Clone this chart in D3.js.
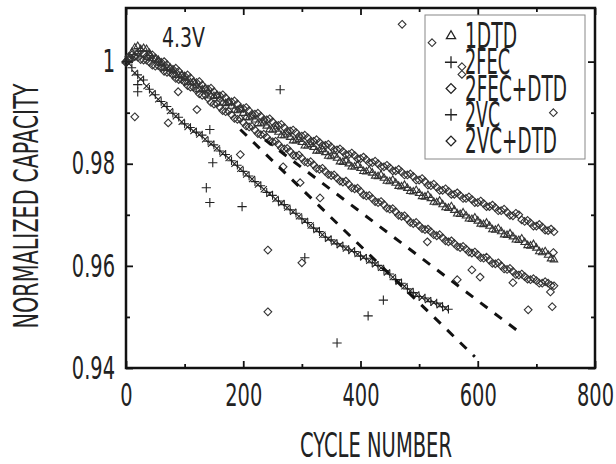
<!DOCTYPE html>
<html>
<head>
<meta charset="utf-8">
<script src="https://cdn.jsdelivr.net/npm/d3@7"></script>
<style>
  body { margin: 0; background: #fff; }
  text { font-family: "Liberation Sans Narrow", "DejaVu Sans Condensed", "Arial Narrow", sans-serif; fill: #222; }
</style>
</head>
<body>
<div id="chart"></div>
<script>
// cycle numbers of the sampled points
var cycles = d3.range(0, 740, 10);
var cyclesMid = d3.range(5, 735, 10);
var cyclesLow = d3.range(0, 560, 10);
var cyclesLow2 = d3.range(5, 555, 10);

// 2VC+DTD (top band)
var vcDtd = [
  1.0000, 1.0013, 1.0017, 1.0016, 1.0011, 1.0007, 0.9999, 0.9994, 0.9985, 0.9981,
  0.9972, 0.9968, 0.9959, 0.9954, 0.9946, 0.9941, 0.9933, 0.9929, 0.9921, 0.9917,
  0.9908, 0.9904, 0.9897, 0.9893, 0.9886, 0.9882, 0.9875, 0.9871, 0.9864, 0.9861,
  0.9854, 0.9851, 0.9844, 0.9842, 0.9836, 0.9833, 0.9827, 0.9824, 0.9818, 0.9816,
  0.9810, 0.9808, 0.9802, 0.9800, 0.9794, 0.9792, 0.9786, 0.9784, 0.9778, 0.9775,
  0.9768, 0.9765, 0.9757, 0.9754, 0.9748, 0.9746, 0.9740, 0.9738, 0.9732, 0.9730,
  0.9724, 0.9722, 0.9716, 0.9714, 0.9708, 0.9705, 0.9698, 0.9700, 0.9687, 0.9684,
  0.9678, 0.9676, 0.9669, 0.9667
];
var vcDtdB = [
  1.0010, 1.0011, 1.0021, 1.0010, 1.0013, 1.0000, 1.0000, 0.9986, 0.9987, 0.9973,
  0.9974, 0.9960, 0.9961, 0.9947, 0.9948, 0.9934, 0.9935, 0.9922, 0.9923, 0.9909,
  0.9910, 0.9897, 0.9899, 0.9886, 0.9888, 0.9875, 0.9877, 0.9864, 0.9866, 0.9854,
  0.9856, 0.9844, 0.9847, 0.9836, 0.9838, 0.9827, 0.9829, 0.9818, 0.9821, 0.9810,
  0.9813, 0.9802, 0.9805, 0.9794, 0.9797, 0.9786, 0.9789, 0.9778, 0.9780, 0.9768,
  0.9771, 0.9758, 0.9760, 0.9748, 0.9751, 0.9740, 0.9743, 0.9732, 0.9735, 0.9724,
  0.9727, 0.9716, 0.9719, 0.9708, 0.9711, 0.9699, 0.9703, 0.9690, 0.9689, 0.9678,
  0.9681, 0.9670, 0.9672
];
// 1DTD (middle band)
var dtd = [
  1.0002, 1.0018, 1.0030, 1.0026, 1.0016, 1.0004, 0.9996, 0.9987, 0.9982, 0.9973,
  0.9968, 0.9959, 0.9954, 0.9945, 0.9941, 0.9932, 0.9927, 0.9918, 0.9913, 0.9904,
  0.9899, 0.9890, 0.9886, 0.9878, 0.9874, 0.9866, 0.9862, 0.9855, 0.9852, 0.9845,
  0.9842, 0.9835, 0.9832, 0.9825, 0.9822, 0.9814, 0.9811, 0.9803, 0.9800, 0.9794,
  0.9791, 0.9784, 0.9782, 0.9775, 0.9772, 0.9765, 0.9762, 0.9755, 0.9752, 0.9745,
  0.9742, 0.9735, 0.9732, 0.9724, 0.9720, 0.9713, 0.9709, 0.9701, 0.9698, 0.9691,
  0.9688, 0.9681, 0.9678, 0.9670, 0.9667, 0.9660, 0.9657, 0.9650, 0.9646, 0.9639,
  0.9635, 0.9626, 0.9621, 0.9612
];
var dtdB = [
  1.0006, 1.0027, 1.0024, 1.0024, 1.0006, 1.0003, 0.9988, 0.9988, 0.9974, 0.9974,
  0.9960, 0.9960, 0.9946, 0.9947, 0.9933, 0.9934, 0.9919, 0.9920, 0.9905, 0.9906,
  0.9891, 0.9892, 0.9879, 0.9880, 0.9867, 0.9868, 0.9855, 0.9858, 0.9845, 0.9848,
  0.9835, 0.9838, 0.9825, 0.9828, 0.9815, 0.9817, 0.9804, 0.9806, 0.9794, 0.9797,
  0.9785, 0.9787, 0.9776, 0.9778, 0.9766, 0.9768, 0.9756, 0.9758, 0.9746, 0.9748,
  0.9736, 0.9738, 0.9725, 0.9727, 0.9714, 0.9716, 0.9702, 0.9704, 0.9692, 0.9694,
  0.9682, 0.9684, 0.9671, 0.9673, 0.9661, 0.9663, 0.9651, 0.9653, 0.9640, 0.9642,
  0.9628, 0.9628, 0.9614
];
// 2FEC+DTD (lower diamond band)
var fecDtd = [
  0.9998, 1.0006, 1.0009, 1.0003, 0.9999, 0.9991, 0.9988, 0.9979, 0.9974, 0.9965,
  0.9960, 0.9950, 0.9944, 0.9934, 0.9928, 0.9917, 0.9911, 0.9902, 0.9896, 0.9887,
  0.9881, 0.9872, 0.9866, 0.9857, 0.9852, 0.9843, 0.9838, 0.9829, 0.9824, 0.9815,
  0.9811, 0.9802, 0.9798, 0.9789, 0.9785, 0.9777, 0.9772, 0.9764, 0.9760, 0.9751,
  0.9746, 0.9737, 0.9732, 0.9724, 0.9720, 0.9711, 0.9706, 0.9697, 0.9692, 0.9683,
  0.9679, 0.9671, 0.9667, 0.9659, 0.9655, 0.9647, 0.9644, 0.9636, 0.9633, 0.9625,
  0.9622, 0.9615, 0.9611, 0.9604, 0.9600, 0.9593, 0.9589, 0.9582, 0.9579, 0.9573,
  0.9571, 0.9566, 0.9566, 0.9561
];
var fecDtdB = [
  1.0003, 1.0010, 1.0004, 1.0003, 0.9993, 0.9992, 0.9981, 0.9979, 0.9967, 0.9965,
  0.9953, 0.9950, 0.9937, 0.9935, 0.9920, 0.9918, 0.9904, 0.9903, 0.9889, 0.9888,
  0.9874, 0.9873, 0.9859, 0.9858, 0.9845, 0.9844, 0.9831, 0.9830, 0.9817, 0.9817,
  0.9804, 0.9804, 0.9791, 0.9791, 0.9779, 0.9778, 0.9766, 0.9766, 0.9753, 0.9752,
  0.9739, 0.9738, 0.9726, 0.9726, 0.9713, 0.9712, 0.9699, 0.9698, 0.9685, 0.9685,
  0.9673, 0.9672, 0.9661, 0.9661, 0.9649, 0.9649, 0.9638, 0.9638, 0.9627, 0.9627,
  0.9616, 0.9617, 0.9605, 0.9606, 0.9594, 0.9595, 0.9583, 0.9584, 0.9574, 0.9575,
  0.9566, 0.9569, 0.9562
];
// 2FEC (lowest band)
var fec = [
  1.0000, 0.9988, 0.9974, 0.9964, 0.9946, 0.9935, 0.9922, 0.9912, 0.9899, 0.9891,
  0.9878, 0.9871, 0.9862, 0.9856, 0.9844, 0.9837, 0.9825, 0.9818, 0.9806, 0.9797,
  0.9785, 0.9776, 0.9765, 0.9757, 0.9744, 0.9738, 0.9727, 0.9720, 0.9710, 0.9703,
  0.9692, 0.9685, 0.9674, 0.9667, 0.9656, 0.9651, 0.9643, 0.9639, 0.9631, 0.9628,
  0.9619, 0.9615, 0.9606, 0.9601, 0.9591, 0.9584, 0.9573, 0.9566, 0.9555, 0.9548,
  0.9540, 0.9537, 0.9530, 0.9527, 0.9520, 0.9515
];
// 2VC (runs with the lowest band)
var vc = [
  0.9996, 0.9978, 0.9966, 0.9952, 0.9938, 0.9926, 0.9915, 0.9903, 0.9893, 0.9882,
  0.9872, 0.9864, 0.9857, 0.9848, 0.9839, 0.9830, 0.9820, 0.9811, 0.9800, 0.9790,
  0.9779, 0.9770, 0.9759, 0.9750, 0.9741, 0.9731, 0.9723, 0.9714, 0.9706, 0.9697,
  0.9688, 0.9679, 0.9670, 0.9661, 0.9653, 0.9646, 0.9641, 0.9634, 0.9630, 0.9623,
  0.9617, 0.9610, 0.9603, 0.9596, 0.9587, 0.9578, 0.9569, 0.9560, 0.9551, 0.9544,
  0.9538, 0.9533, 0.9528, 0.9523, 0.9517
];
// scattered points [cycle, capacity]
var vcStray = [
  [20, 0.9955], [20, 0.9941], [143, 0.9867], [148, 0.9802], [137, 0.9753],
  [143, 0.9724], [198, 0.9716], [263, 0.9945], [305, 0.9616], [360, 0.9449],
  [413, 0.9502], [439, 0.9533]
];
var fecDtdStray = [
  [15, 0.9892], [72, 0.9880], [89, 0.9941], [121, 0.9906], [195, 0.9818],
  [268, 0.9794], [297, 0.9763], [331, 0.9733], [242, 0.9631], [242, 0.9510],
  [300, 0.9606], [514, 0.9647], [565, 0.9573], [590, 0.9592], [604, 0.9578],
  [660, 0.9567], [686, 0.9514], [727, 0.9520], [724, 0.9549]
];
var vcDtdStray = [
  [471, 1.0073], [522, 1.0037], [573, 0.9990], [573, 0.9975], [729, 0.9900], [729, 0.9626]
];
// dashed fit lines
var fitA = [[195, 0.9867], [595, 0.9422]];
var fitB = [[237, 0.9847], [677, 0.9465]];

var xMajor = [0, 200, 400, 600, 800];
var xMinor = [100, 300, 500, 700];
var yMajor = [0.94, 0.96, 0.98, 1];
var yMinor = [0.95, 0.97, 0.99];
var legendLabels = ["1DTD", "2FEC", "2FEC+DTD", "2VC", "2VC+DTD"];

var width = 616, height = 464;

var svg = d3.select("#chart")
  .append("svg")
  .attr("width", width)
  .attr("height", height);

var xScale = d3.scaleLinear().domain([0, 800]).range([126, 595]);
var yScale = d3.scaleLinear().domain([0.94, 1.0105]).range([368, 8]);

// squeeze text to a target width (fonts here are wider than the original)
function squeeze(sel, target) {
  sel.each(function(d, i) {
    var w = this.getComputedTextLength();
    var t = typeof target === "function" ? target(w, d, i) : target;
    d3.select(this).attr("textLength", t).attr("lengthAdjust", "spacingAndGlyphs");
  });
}

var fontFam = '"Liberation Sans Narrow", "DejaVu Sans Condensed", "Arial Narrow", sans-serif';

// probe width of "200" at tick size
var probe = svg.append("text").attr("font-size", 32).text("200");
var kTick = 37 / probe.node().getComputedTextLength();
probe.remove();

// axes (ticks inward)
var bottom = svg.append("g")
  .attr("transform", "translate(0,368)")
  .call(d3.axisBottom(xScale).tickValues(xMajor).tickSize(-7).tickPadding(15)
    .tickFormat(d3.format("d")));
svg.append("g").attr("transform", "translate(0,368)")
  .call(d3.axisBottom(xScale).tickValues(xMinor).tickSize(-4).tickFormat(""));
svg.append("g").attr("transform", "translate(0,8)")
  .call(d3.axisTop(xScale).tickValues(xMajor).tickSize(-7).tickFormat(""));
svg.append("g").attr("transform", "translate(0,8)")
  .call(d3.axisTop(xScale).tickValues(xMinor).tickSize(-4).tickFormat(""));

var left = svg.append("g")
  .attr("transform", "translate(126,0)")
  .call(d3.axisLeft(yScale).tickValues(yMajor).tickSize(-7).tickPadding(11)
    .tickFormat(function(d) { return d === 1 ? "1" : d3.format(".2f")(d); }));
svg.append("g").attr("transform", "translate(126,0)")
  .call(d3.axisLeft(yScale).tickValues(yMinor).tickSize(-4).tickFormat(""));
svg.append("g").attr("transform", "translate(595,0)")
  .call(d3.axisRight(yScale).tickValues(yMajor).tickSize(-7).tickFormat(""));
svg.append("g").attr("transform", "translate(595,0)")
  .call(d3.axisRight(yScale).tickValues(yMinor).tickSize(-4).tickFormat(""));

svg.selectAll(".domain").remove();
svg.selectAll(".tick line").attr("stroke", "#111").attr("stroke-width", 1.8);

[bottom, left].forEach(function(g) {
  g.selectAll("text")
    .attr("font-size", 32)
    .attr("font-family", fontFam)
    .attr("fill", "#222");
  squeeze(g.selectAll("text"), function(w) { return w * kTick; });
});

// frame
svg.append("rect")
  .attr("x", 126).attr("y", 8)
  .attr("width", 595 - 126).attr("height", 368 - 8)
  .attr("fill", "none").attr("stroke", "#111").attr("stroke-width", 2.5);

// markers
function drawPoints(points, type, size, color) {
  svg.append("g").selectAll("path")
    .data(points)
    .enter()
    .append("path")
      .attr("transform", function(d) { return "translate(" + xScale(d[0]) + "," + yScale(d[1]) + ")"; })
      .attr("d", d3.symbol().type(type).size(size))
      .attr("fill", "none")
      .attr("stroke", color)
      .attr("stroke-width", 1.1);
}

drawPoints(d3.zip(cycles, dtd), d3.symbolTriangle2, 40, "#333");
drawPoints(d3.zip(cyclesMid, dtdB), d3.symbolTriangle2, 40, "#333");
drawPoints(d3.zip(cycles, vcDtd), d3.symbolDiamond2, 38, "#333");
drawPoints(d3.zip(cyclesMid, vcDtdB), d3.symbolDiamond2, 38, "#333");
drawPoints(d3.zip(cycles, fecDtd), d3.symbolDiamond2, 38, "#333");
drawPoints(d3.zip(cyclesMid, fecDtdB), d3.symbolDiamond2, 38, "#333");
drawPoints(d3.zip(cyclesLow, fec), d3.symbolPlus, 26, "#222");
drawPoints(d3.zip(cyclesLow2, vc), d3.symbolTimes, 26, "#222");
drawPoints(vcStray, d3.symbolPlus, 30, "#222");
drawPoints(fecDtdStray, d3.symbolDiamond2, 38, "#333");
drawPoints(vcDtdStray, d3.symbolDiamond2, 38, "#333");

// dashed fits
var line = d3.line()
  .x(function(d) { return xScale(d[0]); })
  .y(function(d) { return yScale(d[1]); });

[fitA, fitB].forEach(function(f) {
  svg.append("path")
    .datum(f)
    .attr("d", line)
    .attr("fill", "none")
    .attr("stroke", "#111")
    .attr("stroke-width", 3)
    .attr("stroke-dasharray", "9,9");
});

// axis titles
var xTitle = svg.append("text")
  .attr("x", 376).attr("y", 457)
  .attr("text-anchor", "middle")
  .attr("font-size", 33)
  .text("CYCLE NUMBER");
squeeze(xTitle, 152);

var yTitle = svg.append("text")
  .attr("transform", "translate(38,206) rotate(-90)")
  .attr("text-anchor", "middle")
  .attr("font-size", 33)
  .text("NORMALIZED CAPACITY");
squeeze(yTitle, 245);

var volt = svg.append("text")
  .attr("x", 162).attr("y", 47)
  .attr("font-size", 26)
  .text("4.3V");
squeeze(volt, 43);

// legend
svg.append("rect")
  .attr("x", 425).attr("y", 15)
  .attr("width", 160).attr("height", 144)
  .attr("fill", "none")
  .attr("stroke", "#888")
  .attr("stroke-width", 1);

var legendSymbols = [d3.symbolTriangle2, d3.symbolPlus, d3.symbolDiamond2, d3.symbolPlus, d3.symbolDiamond2];
var legendWidths = [52, 45, 102, 35, 92];
var legendY = d3.scalePoint().domain(legendLabels).range([36, 141]);

var legend = svg.append("g").selectAll("g")
  .data(legendLabels)
  .enter()
  .append("g")
    .attr("transform", function(d) { return "translate(0," + legendY(d) + ")"; });

legend.append("path")
  .attr("transform", "translate(451,0)")
  .attr("d", function(d, i) { return d3.symbol().type(legendSymbols[i]).size(i === 1 || i === 3 ? 50 : 60)(); })
  .attr("fill", "none")
  .attr("stroke", "#222")
  .attr("stroke-width", 1.3);

legend.append("text")
  .attr("x", 465)
  .attr("y", 12)
  .attr("font-size", 35)
  .text(function(d) { return d; })
  .each(function(d, i) { squeeze(d3.select(this), legendWidths[i]); });
</script>
</body>
</html>
